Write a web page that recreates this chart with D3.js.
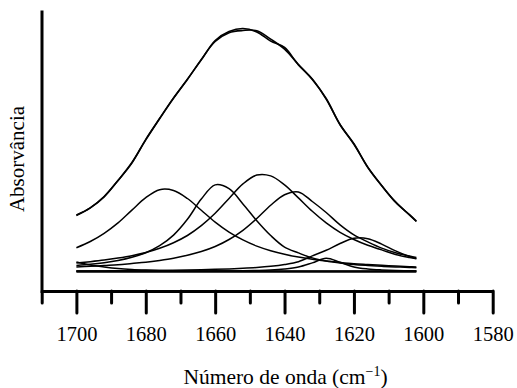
<!DOCTYPE html>
<html>
<head>
<meta charset="utf-8">
<script src="https://cdn.jsdelivr.net/npm/d3@7"></script>
<style>
  html, body { margin: 0; padding: 0; background: #fff; }
  svg { display: block; }
  svg text { font-family: "Liberation Serif", "Times New Roman", serif; fill: #000; }
</style>
</head>
<body>
<svg id="chart" width="517" height="388"></svg>
<script>
// Wavenumbers (cm-1) at which the curves were read
const wavenumbers = [1700,1696,1692,1688,1684,1680,1676,1672,1668,1664,1660,1656,1652,1648,1644,1640,1636,1632,1628,1624,1620,1616,1612,1608,1604,1602];

// Measured spectrum and fitted envelope (absorbance, arbitrary units)
const measured = [0.280,0.318,0.375,0.455,0.542,0.661,0.765,0.866,0.962,1.058,1.155,1.200,1.215,1.198,1.152,1.120,1.033,0.963,0.862,0.734,0.639,0.520,0.429,0.348,0.283,0.250];
const fitted   = [0.282,0.318,0.373,0.455,0.545,0.658,0.765,0.868,0.960,1.060,1.150,1.194,1.205,1.204,1.162,1.112,1.035,0.960,0.865,0.735,0.636,0.522,0.430,0.346,0.284,0.252];

// Deconvoluted component bands
const band1674 = [0.119,0.150,0.191,0.243,0.307,0.369,0.409,0.405,0.365,0.306,0.247,0.197,0.158,0.127,0.104,0.086,0.072,0.061,0.052,0.045,0.039,0.035,0.031,0.027,0.024,0.023];
const band1659 = [0.030,0.036,0.044,0.055,0.071,0.094,0.129,0.182,0.261,0.362,0.433,0.414,0.338,0.254,0.180,0.122,0.093,0.068,0.053,0.043,0.035,0.030,0.026,0.023,0.020,0.019];
const band1647 = [0.042,0.049,0.057,0.067,0.079,0.095,0.116,0.144,0.180,0.229,0.291,0.365,0.438,0.482,0.478,0.433,0.368,0.301,0.243,0.196,0.160,0.131,0.108,0.085,0.070,0.064];
const band1637 = [0.023,0.026,0.030,0.034,0.040,0.046,0.055,0.066,0.081,0.100,0.125,0.160,0.206,0.265,0.331,0.384,0.398,0.350,0.295,0.233,0.183,0.148,0.117,0.094,0.077,0.070];
const band1618 = [0.003,0.003,0.003,0.004,0.004,0.005,0.005,0.006,0.007,0.009,0.011,0.013,0.016,0.020,0.026,0.035,0.049,0.078,0.106,0.140,0.166,0.164,0.137,0.103,0.075,0.065];
const band1628 = [0.001,0.001,0.001,0.001,0.001,0.001,0.001,0.001,0.001,0.001,0.002,0.002,0.004,0.005,0.007,0.012,0.022,0.043,0.066,0.046,0.023,0.013,0.008,0.005,0.004,0.003];
const band1705 = [0.048,0.033,0.023,0.015,0.010,0.007,0.005,0.004,0.003,0.003,0.002,0.002,0.002,0.002,0.001,0.001,0.001,0.001,0.001,0.001,0.001,0.001,0.001,0.001,0.001,0.001];
const baseline = [0,0,0,0,0,0,0,0,0,0,0,0,0,0,0,0,0,0,0,0,0,0,0,0,0,0];

// Axis ticks
const majorTicks = [1700,1680,1660,1640,1620,1600,1580];
const minorTicks = [1710,1690,1670,1650,1630,1610,1590];
const xTitle = "Número de onda (cm";
const xTitleSup = "−1";
const yTitle = "Absorvância";

const FONT = "'Liberation Serif', 'Times New Roman', serif";
const svg = d3.select("#chart");

const x = d3.scaleLinear().domain([1710, 1580]).range([41.7, 492.7]);
const y = d3.scaleLinear().domain([0, 1.25]).range([271.5, 21.5]);

const line = d3.line()
  .x(d => x(d[0]))
  .y(d => y(d[1]))
  .curve(d3.curveCatmullRom.alpha(0.5));

const toPts = arr => wavenumbers.map((w, i) => [w, arr[i]]);

// Baseline (thicker)
svg.append("path")
  .attr("d", line(toPts(baseline)))
  .attr("fill", "none").attr("stroke", "#000").attr("stroke-width", 2.4);

const components = [band1705, band1674, band1659, band1647, band1637, band1628, band1618];
components.forEach(c => {
  svg.append("path")
    .attr("d", line(toPts(c)))
    .attr("fill", "none").attr("stroke", "#000").attr("stroke-width", 1.5);
});

[measured, fitted].forEach(c => {
  svg.append("path")
    .attr("d", line(toPts(c)))
    .attr("fill", "none").attr("stroke", "#000").attr("stroke-width", 1.6);
});

// X axis
const axisY = 291;
const gMinor = svg.append("g").attr("transform", `translate(0,${axisY})`)
  .call(d3.axisBottom(x).tickValues(minorTicks).tickSize(12).tickSizeOuter(0).tickFormat(""));
const gMajor = svg.append("g").attr("transform", `translate(0,${axisY})`)
  .call(d3.axisBottom(x).tickValues(majorTicks).tickSize(22).tickSizeOuter(0).tickPadding(13).tickFormat(d3.format("d")));

[gMinor, gMajor].forEach(g => {
  g.attr("font-family", null).attr("font-size", null);
  g.select(".domain").attr("stroke", "#000").attr("stroke-width", 3);
  g.selectAll(".tick line").attr("stroke", "#000").attr("stroke-width", 3).attr("stroke-linecap", "round");
});
gMajor.selectAll(".tick text")
  .style("font-family", FONT)
  .style("font-size", "20.5px").attr("fill", "#000");

// Y axis (no ticks)
const yAxisScale = y.copy().domain([y.invert(axisY + 1.5), y.invert(10)]).range([axisY + 1.5, 10]);
const gy = svg.append("g").attr("transform", "translate(41.5,0)")
  .call(d3.axisLeft(yAxisScale).tickValues([]).tickSizeOuter(0));
gy.select(".domain").attr("stroke", "#000").attr("stroke-width", 3);

// Titles
const xt = svg.append("text")
  .attr("x", 285.5).attr("y", 384)
  .attr("text-anchor", "middle")
  .style("font-family", FONT)
  .style("font-size", "21.5px");
xt.append("tspan").text(xTitle);
xt.append("tspan").style("font-size", "14px").attr("dy", -8).text(xTitleSup);
xt.append("tspan").attr("dy", 8).text(")");

svg.append("text")
  .attr("transform", "translate(24,159) rotate(-90)")
  .attr("text-anchor", "middle")
  .style("font-family", FONT)
  .style("font-size", "21px")
  .text(yTitle);
</script>
</body>
</html>
